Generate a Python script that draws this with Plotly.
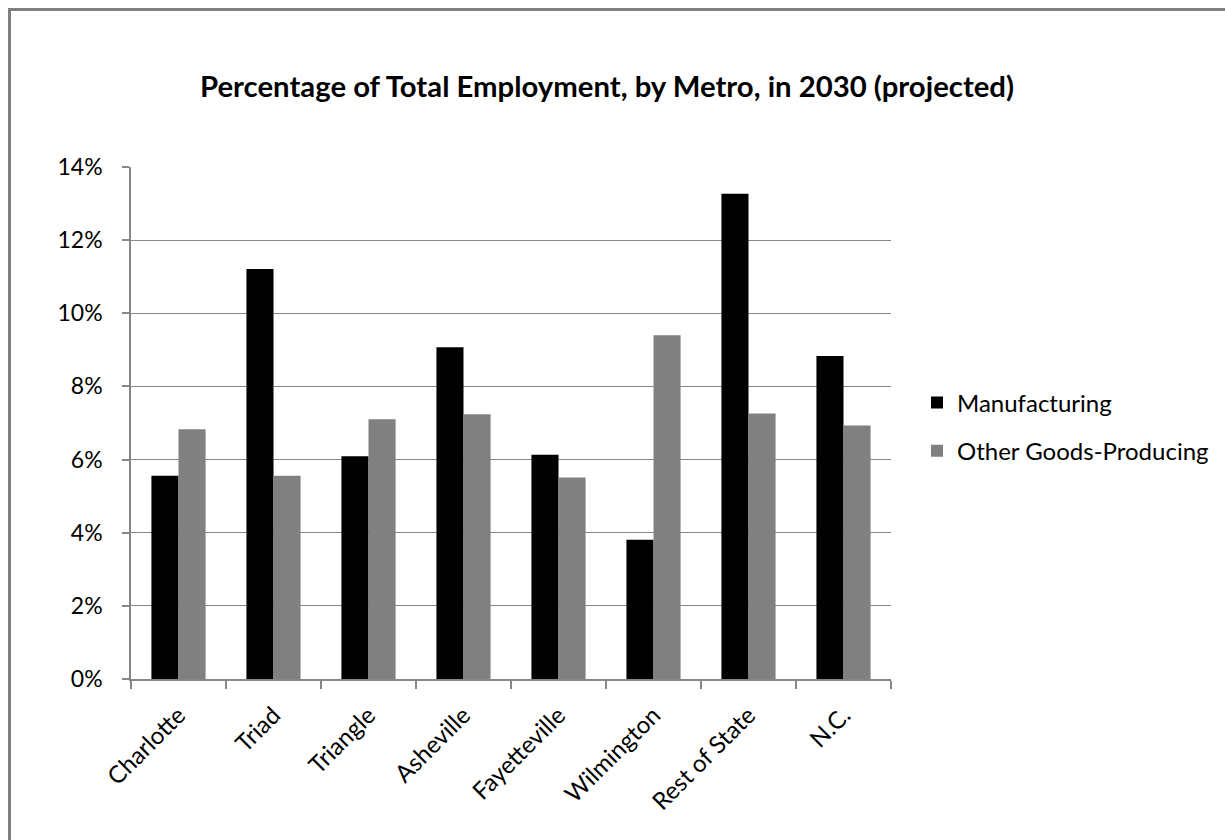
import plotly.graph_objects as go

categories = ["Charlotte", "Triad", "Triangle", "Asheville", "Fayetteville",
              "Wilmington", "Rest of State", "N.C."]
manufacturing = [5.56, 11.21, 6.09, 9.07, 6.13, 3.81, 13.27, 8.83]
other_goods = [6.83, 5.56, 7.10, 7.24, 5.51, 9.40, 7.26, 6.93]
y_ticks = [0, 2, 4, 6, 8, 10, 12, 14]
y_tick_labels = [f"{v}%" for v in y_ticks]

W, H = 1225, 840
L, R, T, B = 131, 891, 167, 679
pw, ph = R - L, B - T

def px_x(px):
    return (px - L) / pw

def px_y(py):
    return (B - py) / ph

FONT = "Lato"
GRID = "#868686"

fig = go.Figure()
fig.add_trace(go.Bar(x=categories, y=manufacturing, name="Manufacturing",
                     marker=dict(color="#000000", line=dict(width=0)),
                     legendgroup="a"))
fig.add_trace(go.Bar(x=categories, y=other_goods, name="Other Goods-Producing",
                     marker=dict(color="#808080", line=dict(width=0)),
                     legendgroup="b"))

fig.update_layout(
    width=W, height=H,
    margin=dict(l=L, r=W - R, t=T, b=H - B, pad=0, autoexpand=False),
    paper_bgcolor="white", plot_bgcolor="white",
    barmode="group", bargap=0.43, bargroupgap=0,
    title=dict(text="<b>Percentage of Total Employment, by Metro, in 2030 (projected)</b>",
               x=607 / W, xanchor="center", y=1 - 87 / H, yanchor="middle",
               xref="container", yref="container",
               font=dict(family=FONT, size=29.3, color="black")),
    font=dict(family=FONT, color="black"),
    legend=dict(x=px_x(917), y=px_y(427), xanchor="left", yanchor="middle",
                font=dict(family=FONT, size=24, color="black"),
                tracegroupgap=14, itemwidth=30,
                bgcolor="rgba(0,0,0,0)"),
    showlegend=True,
)
fig.update_xaxes(
    type="category", showline=True, linecolor=GRID, linewidth=1.5,
    ticks="outside", tickson="boundaries", ticklen=8, tickcolor=GRID, tickwidth=1.5,
    tickangle=-45, tickfont=dict(family=FONT, size=24, color="black"),
    showgrid=False, range=[-0.5, 7.5], ticklabelstandoff=11,
)
fig.update_yaxes(
    range=[0, 14], tickvals=y_ticks, ticktext=y_tick_labels,
    showline=True, linecolor=GRID, linewidth=1.5,
    ticks="outside", ticklen=7, tickcolor=GRID, tickwidth=1.5,
    showgrid=True, gridcolor=GRID, gridwidth=1.2, zeroline=False,
    tickfont=dict(family=FONT, size=23, color="black"),
    ticklabelstandoff=15,
)
fig.add_shape(type="rect", xref="paper", yref="paper",
              x0=px_x(9.5), x1=px_x(1260), y0=px_y(880), y1=px_y(9.5),
              line=dict(color="#808080", width=3), fillcolor="rgba(0,0,0,0)",
              layer="below")

fig.write_html("out.html", config={"displayModeBar": False},
               post_script="document.body.style.margin='0px';")
